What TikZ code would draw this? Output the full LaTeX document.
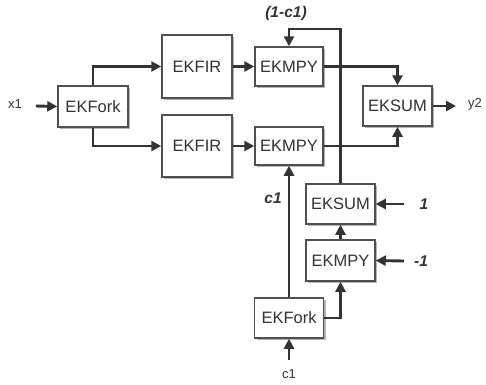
\documentclass[tikz,border=0pt]{standalone}
\usepackage{fontspec}
\setmainfont{Liberation Sans}
\usetikzlibrary{arrows.meta,shadows}
\definecolor{ink}{HTML}{333333}
\definecolor{frame}{HTML}{505050}
\definecolor{shade}{HTML}{B4B4B4}
\tikzset{
  blk/.style={draw=frame, line width=1.5pt, fill=white, inner sep=0pt,
    text=ink, font=\fontsize{16.5}{18}\selectfont,
    drop shadow={shadow xshift=2pt, shadow yshift=-2pt, fill=shade, opacity=1}},
  wire/.style={draw=ink, line width=2.9pt, -{Triangle[length=10pt,width=10pt]}},
  sig/.style={text=ink, font=\fontsize{13}{15}\selectfont, inner sep=0pt},
  coef/.style={text=ink, font=\fontsize{15.5}{17}\selectfont\bfseries\itshape, inner sep=0pt}
}
\begin{document}
\begin{tikzpicture}[x=1pt, y=-1pt]
  \useasboundingbox (0,0) rectangle (486,384);

  % blocks
  \node[blk, minimum width=70pt, minimum height=41pt] (fork1) at (93,106.5) {EKFork};
  \node[blk, minimum width=70pt, minimum height=63pt] (fir1) at (197,66.5) {EKFIR};
  \node[blk, minimum width=70pt, minimum height=62pt] (fir2) at (197,146) {EKFIR};
  \node[blk, minimum width=68pt, minimum height=39pt] (mpy1) at (289,66.5) {EKMPY};
  \node[blk, minimum width=68pt, minimum height=38pt] (mpy2) at (289,146) {EKMPY};
  \node[blk, minimum width=69pt, minimum height=40pt] (sum1) at (397.5,106) {EKSUM};
  \node[blk, minimum width=69pt, minimum height=40pt] (sum2) at (340.5,204) {EKSUM};
  \node[blk, minimum width=69pt, minimum height=41pt] (mpy3) at (340.5,260.5) {EKMPY};
  \node[blk, minimum width=69pt, minimum height=40pt] (fork2) at (289,318) {EKFork};

  % signal labels
  \node[sig] (x1) at (15,104) {x1};
  \node[sig] (y2) at (475,104) {y2};
  \node[sig] (c1in) at (289,374) {c1};
  \node[coef] (one) at (424,204) {1};
  \node[coef] (mone) at (421,261) {-1};
  \node[coef] (omc) at (286,13) {(1-c1)};
  \node[coef] (c1lab) at (273,198) {c1};

  % free ends of the input/output arrows and the feedback corners
  \coordinate (x1e) at (36,106);
  \coordinate (y2e) at (456,106);
  \coordinate (c1e) at (289,360);
  \coordinate (onee) at (404,204);
  \coordinate (monee) at (404,261);
  \coordinate (fbr) at (340.5,29);
  \coordinate (fbl) at (289,29);

  % main path
  \draw[wire] (x1e) -- (fork1.west);
  \draw[wire] (fork1.north) |- (fir1.west);
  \draw[wire] (fork1.south) |- (fir2.west);
  \draw[wire] (fir1.east) -- (mpy1.west);
  \draw[wire] (fir2.east) -- (mpy2.west);
  \draw[wire] (mpy1.east) -| (sum1.north);
  \draw[wire] (mpy2.east) -| (sum1.south);
  \draw[wire] (sum1.east) -- (y2e);

  % coefficient path
  \draw[wire] (c1e) -- (fork2.south);
  \draw[wire] (fork2.north) -- (mpy2.south);
  \draw[wire] (fork2.east) -| (mpy3.south);
  \draw[wire] (mpy3.north) -- (sum2.south);
  \draw[wire] (monee) -- (mpy3.east);
  \draw[wire] (onee) -- (sum2.east);
  \draw[wire] (sum2.north) -- (fbr) -- (fbl) -- (mpy1.north);
\end{tikzpicture}
\end{document}
